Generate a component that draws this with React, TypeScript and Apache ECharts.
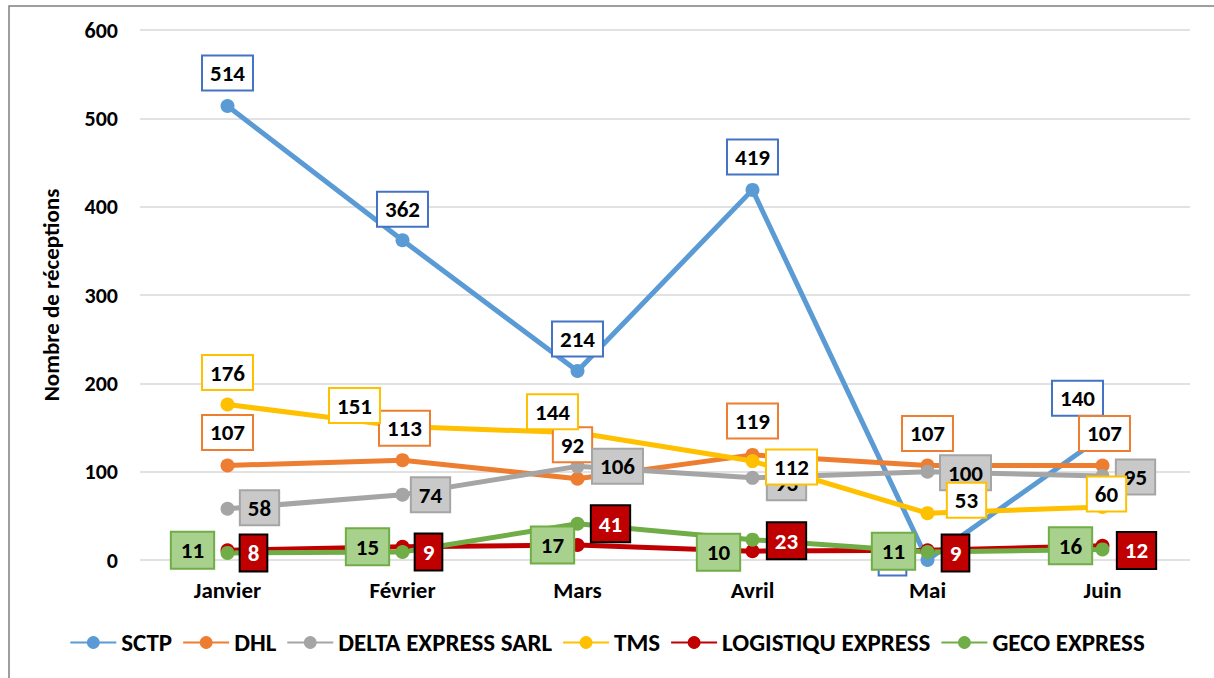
import React, { useEffect, useRef } from "react";
import * as echarts from "echarts";

const months = ["Janvier", "Février", "Mars", "Avril", "Mai", "Juin"];
const sctp = [514, 362, 214, 419, 0, 140];
const dhl = [107, 113, 92, 119, 107, 107];
const delta = [58, 74, 106, 93, 100, 95];
const tms = [176, 151, 144, 112, 53, 60];
const logistiqu = [11, 15, 17, 10, 11, 16];
const geco = [8, 9, 41, 23, 9, 12];

const seriesNames = ["SCTP", "DHL", "DELTA EXPRESS SARL", "TMS", "LOGISTIQU EXPRESS", "GECO EXPRESS"];
const seriesValues = [sctp, dhl, delta, tms, logistiqu, geco];
const lineColors = ["#5B9BD5", "#ED7D31", "#A5A5A5", "#FFC000", "#C00000", "#70AD47"];

// label placement (offset from the point, px)
const labelOffsets: number[][][] = [
  [[0, -33], [0, -31], [0, -32], [0, -33], [-35, -2], [-25, -38]],
  [[0, -33], [2, -32], [-5, -34], [0, -34], [0, -32], [2, -32]],
  [[32, -1], [28, 0], [40, 0], [34, 5], [38, 1], [33, 1]],
  [[0, -32], [-48, -21], [-25, -21], [39, 6], [39, -13], [4, -13]],
  [[-35, 0], [-35, 0], [-25, 0], [-34, 1], [-34, 1], [-32, 0]],
  [[26, 0], [26, 0], [33, 0], [34, 1], [28, 1], [34, 1]],
];

const FONT = "Carlito, Calibri, 'Liberation Sans Narrow', 'Liberation Sans', sans-serif";

const labelStyles = [
  { backgroundColor: "#FFFFFF", borderColor: "#4472C4", color: "#000", padding: [5, 7] },
  { backgroundColor: "#FFFFFF", borderColor: "#ED7D31", color: "#000", padding: [5, 7] },
  { backgroundColor: "#C9C9C9", borderColor: "#A5A5A5", color: "#000", padding: [5, 7] },
  { backgroundColor: "#FFFFFF", borderColor: "#FFC000", color: "#000", padding: [5, 7] },
  { backgroundColor: "#A9D18E", borderColor: "#70AD47", color: "#000", padding: [6, 9] },
  { backgroundColor: "#C00000", borderColor: "#000000", color: "#FFFFFF", padding: [6, 7] },
];

export default function App() {
  const ref = useRef<HTMLDivElement>(null);
  useEffect(() => {
    document.body.style.margin = "0";
    const chart = echarts.init(ref.current!, null, { renderer: "svg" });
    const series = seriesNames.map((name, si) => ({
      name,
      type: "line",
      data: seriesValues[si],
      symbol: "circle",
      symbolSize: 14,
      lineStyle: { width: 5, color: lineColors[si] },
      itemStyle: { color: lineColors[si] },
      label: {
        show: true,
        position: "inside",
        fontFamily: FONT,
        fontWeight: "bold",
        fontSize: 23,
        borderWidth: 2,
        ...labelStyles[si],
      },
      labelLayout: (p: any) => ({
        dx: labelOffsets[si][p.dataIndex][0],
        dy: labelOffsets[si][p.dataIndex][1],
        hideOverlap: false,
      }),
      emphasis: { disabled: true },
    }));
    chart.setOption({
      animation: false,
      textStyle: { fontFamily: FONT },
      graphic: [
        {
          type: "rect",
          shape: { x: 9, y: 6, width: 1230, height: 700 },
          style: { fill: "none", stroke: "#7F7F7F", lineWidth: 1.5 },
          silent: true,
        },
      ],
      grid: { left: 140, right: 24, top: 30, bottom: 118 },
      legend: {
        top: 625,
        left: "center",
        itemWidth: 46,
        itemHeight: 16,
        itemGap: 10,
        textStyle: { fontFamily: FONT, fontWeight: "bold", fontSize: 25, color: "#000" },
        data: seriesNames,
      },
      xAxis: {
        type: "category",
        data: months,
        boundaryGap: true,
        axisLine: { show: false },
        axisTick: { show: false },
        axisLabel: { fontFamily: FONT, fontWeight: "bold", fontSize: 23, color: "#000", margin: 18 },
      },
      yAxis: {
        type: "value",
        min: 0,
        max: 600,
        interval: 100,
        name: "Nombre de réceptions",
        nameLocation: "middle",
        nameGap: 78,
        nameTextStyle: { fontFamily: FONT, fontWeight: "bold", fontSize: 23, color: "#000" },
        axisLine: { show: false },
        axisTick: { show: false },
        axisLabel: { fontFamily: FONT, fontWeight: "bold", fontSize: 22, color: "#000", margin: 22 },
        splitLine: { lineStyle: { color: "#D9D9D9", width: 1.5 } },
      },
      series,
    });
    return () => chart.dispose();
  }, []);
  return <div ref={ref} style={{ width: 1214, height: 678 }} />;
}
